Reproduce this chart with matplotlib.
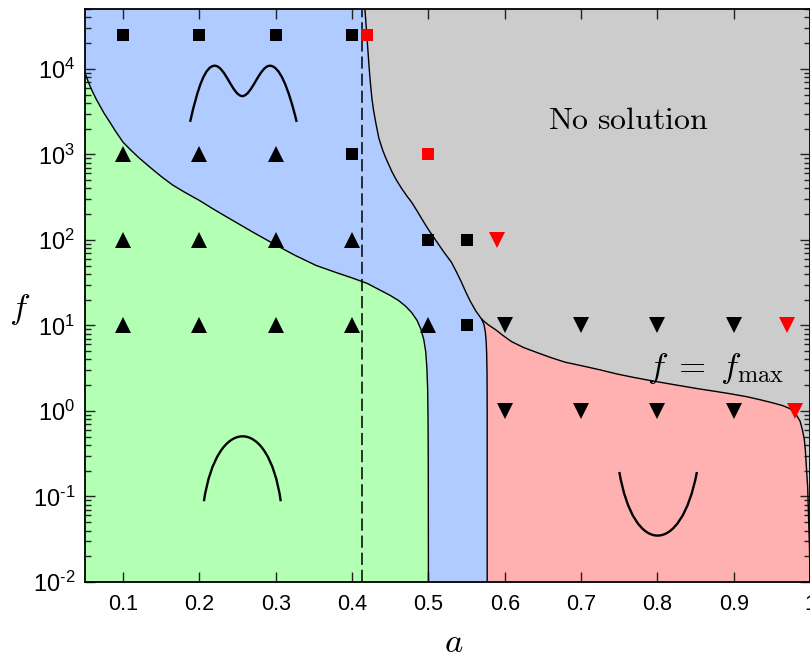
import numpy as np
import matplotlib
matplotlib.use("Agg")
import matplotlib.pyplot as plt
from matplotlib.path import Path
from matplotlib.patches import PathPatch
from matplotlib.ticker import FixedLocator, FixedFormatter, LogLocator, FuncFormatter, NullFormatter

plt.rcParams['font.family'] = ['Liberation Sans', 'DejaVu Sans']
plt.rcParams['mathtext.fontset'] = 'custom'
plt.rcParams['mathtext.rm'] = 'Liberation Sans'
plt.rcParams['mathtext.it'] = 'Liberation Sans:italic'
plt.rcParams['mathtext.sf'] = 'Liberation Sans'

# ---------------- data ----------------
# green / blue boundary (single-peak -> double-peak), log10(f)
a_green = [0.05, 0.055, 0.06, 0.065, 0.07, 0.075, 0.083, 0.09, 0.10, 0.11,
           0.12, 0.135, 0.15, 0.165, 0.18, 0.20, 0.22, 0.243, 0.27, 0.30,
           0.325, 0.353, 0.38, 0.40, 0.42, 0.435, 0.45, 0.461, 0.47, 0.478,
           0.485, 0.49, 0.494, 0.4965, 0.498, 0.499, 0.4995, 0.4998, 0.5]
lf_green = [3.95, 3.83, 3.73, 3.64, 3.56, 3.48, 3.37, 3.27, 3.14, 3.05,
            2.965, 2.85, 2.74, 2.64, 2.56, 2.46, 2.35, 2.23, 2.09, 1.94,
            1.82, 1.70, 1.615, 1.555, 1.49, 1.42, 1.35, 1.29, 1.225, 1.15,
            1.06, 0.96, 0.83, 0.69, 0.5, 0.25, -0.1, -0.6, -2.0]

# blue / grey boundary (no solution)
a_bg = [0.4168, 0.418, 0.4195, 0.421, 0.422, 0.424, 0.426, 0.428, 0.431, 0.435,
        0.44, 0.444, 0.452, 0.458, 0.465, 0.472, 0.478, 0.485, 0.491, 0.50,
        0.51, 0.52, 0.53, 0.537, 0.543, 0.549, 0.555, 0.562, 0.570]
lf_bg = [4.70, 4.55, 4.37, 4.18, 4.05, 3.83, 3.65, 3.52, 3.37, 3.19,
         3.05, 2.96, 2.80, 2.70, 2.60, 2.51, 2.44, 2.34, 2.25, 2.12,
         1.99, 1.86, 1.74, 1.62, 1.51, 1.39, 1.28, 1.17, 1.07]

# blue / red boundary
a_br = [0.570, 0.5728, 0.5745, 0.5756, 0.5763, 0.5768, 0.577, 0.577]
lf_br = [1.07, 1.01, 0.93, 0.82, 0.68, 0.45, 0.0, -2.0]

# red / grey boundary  f = f_max
a_fmax = [0.570, 0.578, 0.588, 0.598, 0.609, 0.625, 0.64, 0.66, 0.679, 0.70,
          0.725, 0.748, 0.77, 0.788, 0.82, 0.853, 0.875, 0.896, 0.918, 0.935,
          0.953, 0.965, 0.974, 0.981, 0.987, 0.990, 0.9925, 0.994, 0.995,
          0.997, 0.998, 0.9993, 1.0]
lf_fmax = [1.07, 1.01, 0.95, 0.88, 0.81, 0.74, 0.69, 0.625, 0.57, 0.53,
           0.48, 0.43, 0.39, 0.36, 0.31, 0.26, 0.23, 0.20, 0.165, 0.13,
           0.09, 0.06, 0.025, -0.03, -0.12, -0.22, -0.33, -0.47, -0.62,
           -0.9, -1.2, -1.6, -2.0]

a_dashed = 0.4125

# markers
sq_black_a = [0.1, 0.2, 0.3, 0.4, 0.4, 0.5, 0.55, 0.55]
sq_black_f = [2.5e4, 2.5e4, 2.5e4, 2.5e4, 1e3, 100, 100, 10]
sq_red_a = [0.42, 0.5]
sq_red_f = [2.5e4, 1e3]
up_a = [0.1, 0.2, 0.3, 0.1, 0.2, 0.3, 0.4, 0.1, 0.2, 0.3, 0.4, 0.5]
up_f = [1e3, 1e3, 1e3, 100, 100, 100, 100, 10, 10, 10, 10, 10]
down_black_a = [0.6, 0.7, 0.8, 0.9, 0.6, 0.7, 0.8, 0.9]
down_black_f = [10, 10, 10, 10, 1, 1, 1, 1]
down_red_a = [0.59, 0.97, 0.98]
down_red_f = [100, 10, 1]

xtick_vals = [0.1, 0.2, 0.3, 0.4, 0.5, 0.6, 0.7, 0.8, 0.9, 1.0]
xtick_labels = ['0.1', '0.2', '0.3', '0.4', '0.5', '0.6', '0.7', '0.8', '0.9', '1']

c_green = '#b3ffb3'
c_blue = '#b0cbff'
c_grey = '#cccccc'
c_red = '#ffb0b0'

f_green = list(10.0 ** np.array(lf_green))
f_bg = list(10.0 ** np.array(lf_bg))
f_br = list(10.0 ** np.array(lf_br))
f_fmax = list(10.0 ** np.array(lf_fmax))

# ---------------- figure ----------------
fig = plt.figure(figsize=(8.1, 6.57), dpi=100)
ax = fig.add_axes([85 / 810, 75 / 657, 725 / 810, 573 / 657])
ax.set_facecolor(c_grey)
ax.set_yscale('log')
ax.set_xlim(0.05, 1.0)
ax.set_ylim(1e-2, 5e4)

TOP, BOT, LEFT = 1e7, 1e-4, 0.0

# blue region
bx = [LEFT, a_bg[0]] + a_bg + a_br[1:] + [a_br[-1], LEFT]
by = [TOP, TOP] + f_bg + f_br[1:] + [BOT, BOT]
ax.fill(bx, by, color=c_blue, lw=0, zorder=1)

# green region
gx = [LEFT] + a_green + [a_green[-1], LEFT]
gy = [f_green[0]] + f_green + [BOT, BOT]
ax.fill(gx, gy, color=c_green, lw=0, zorder=1.1)

# red region
rx = a_fmax + [a_fmax[-1], a_br[-1]] + a_br[::-1]
ry = f_fmax + [BOT, BOT] + f_br[::-1]
ax.fill(rx, ry, color=c_red, lw=0, zorder=1.1)

lw = 1.0
for xs, ys in [(a_green, f_green), (a_bg, f_bg), (a_br, f_br), (a_fmax, f_fmax)]:
    ax.plot(xs, ys, color='black', lw=lw, zorder=2, solid_joinstyle='round')
ax.axvline(a_dashed, color='black', lw=1.1, dashes=(8, 3.2), zorder=2)

ms_sq = 8.5
ms_tri = 11.5
ax.plot(sq_black_a, sq_black_f, 's', color='black', ms=ms_sq, mew=0, zorder=3)
ax.plot(sq_red_a, sq_red_f, 's', color='red', ms=ms_sq, mew=0, zorder=3)
ax.plot(up_a, up_f, '^', color='black', ms=ms_tri, mew=0, zorder=3)
ax.plot(down_black_a, down_black_f, 'v', color='black', ms=ms_tri, mew=0, zorder=3)
ax.plot(down_red_a, down_red_f, 'v', color='red', ms=ms_tri, mew=0, zorder=3)

# schematic profile sketches (Bezier glyphs in axes coordinates)
C4 = Path.CURVE4
def glyph(verts, codes):
    p = PathPatch(Path(verts, codes), fill=False, lw=1.7, ec='black',
                  transform=ax.transAxes, zorder=3, capstyle='butt')
    ax.add_patch(p)

# double-hump
glyph([(0.145, 0.803), (0.156, 0.865), (0.166, 0.901), (0.179, 0.901),
       (0.193, 0.901), (0.204, 0.848), (0.217, 0.848),
       (0.230, 0.848), (0.241, 0.901), (0.255, 0.901),
       (0.268, 0.901), (0.280, 0.865), (0.292, 0.803)],
      [Path.MOVETO] + [C4] * 12)
# single hump
glyph([(0.164, 0.141), (0.182, 0.292), (0.253, 0.292), (0.270, 0.141)],
      [Path.MOVETO, C4, C4, C4])
# single well
glyph([(0.737, 0.192), (0.757, 0.044), (0.822, 0.044), (0.844, 0.192)],
      [Path.MOVETO, C4, C4, C4])

ax.text(0.749, 0.8045, r'$\mathrm{No\ solution}$', transform=ax.transAxes,
        ha='center', va='center', fontsize=23, math_fontfamily='cm', zorder=4)
ax.text(0.869, 0.372, r'$f\;=\;f_{\max}$', transform=ax.transAxes,
        ha='center', va='center', fontsize=25, math_fontfamily='cm', zorder=4)

# ticks
def ylab(v, p):
    e = int(round(np.log10(v)))
    s = ('\u2010%d' % -e) if e < 0 else '%d' % e
    return r'$\mathregular{10^{%s}}$' % s

ax.xaxis.set_major_locator(FixedLocator(xtick_vals))
ax.xaxis.set_major_formatter(FixedFormatter(xtick_labels))
ax.yaxis.set_major_locator(LogLocator(base=10, numticks=20))
ax.yaxis.set_minor_locator(LogLocator(base=10, subs=np.arange(2, 10), numticks=20))
ax.yaxis.set_minor_formatter(NullFormatter())
ax.yaxis.set_major_formatter(FuncFormatter(ylab))

ax.tick_params(axis='both', which='both', direction='in', top=True, right=True,
               color='#222222', width=1.0)
ax.tick_params(axis='both', which='major', length=7)
ax.tick_params(axis='y', which='minor', length=4)
ax.tick_params(axis='x', which='major', labelsize=15.5, pad=9)
ax.tick_params(axis='y', which='major', labelsize=17, pad=7)

for s in ax.spines.values():
    s.set_linewidth(1.3)
    s.set_zorder(5)

ax.set_xlabel(r'$a$', fontsize=25, math_fontfamily='cm', va='center')
ax.xaxis.set_label_coords(0.509, -0.106)
ax.set_ylabel(r'$f$', fontsize=25, math_fontfamily='cm', rotation=0, va='center', ha='center')
ax.yaxis.set_label_coords(-0.090, 0.475)

fig.savefig('out.png', dpi=100)
